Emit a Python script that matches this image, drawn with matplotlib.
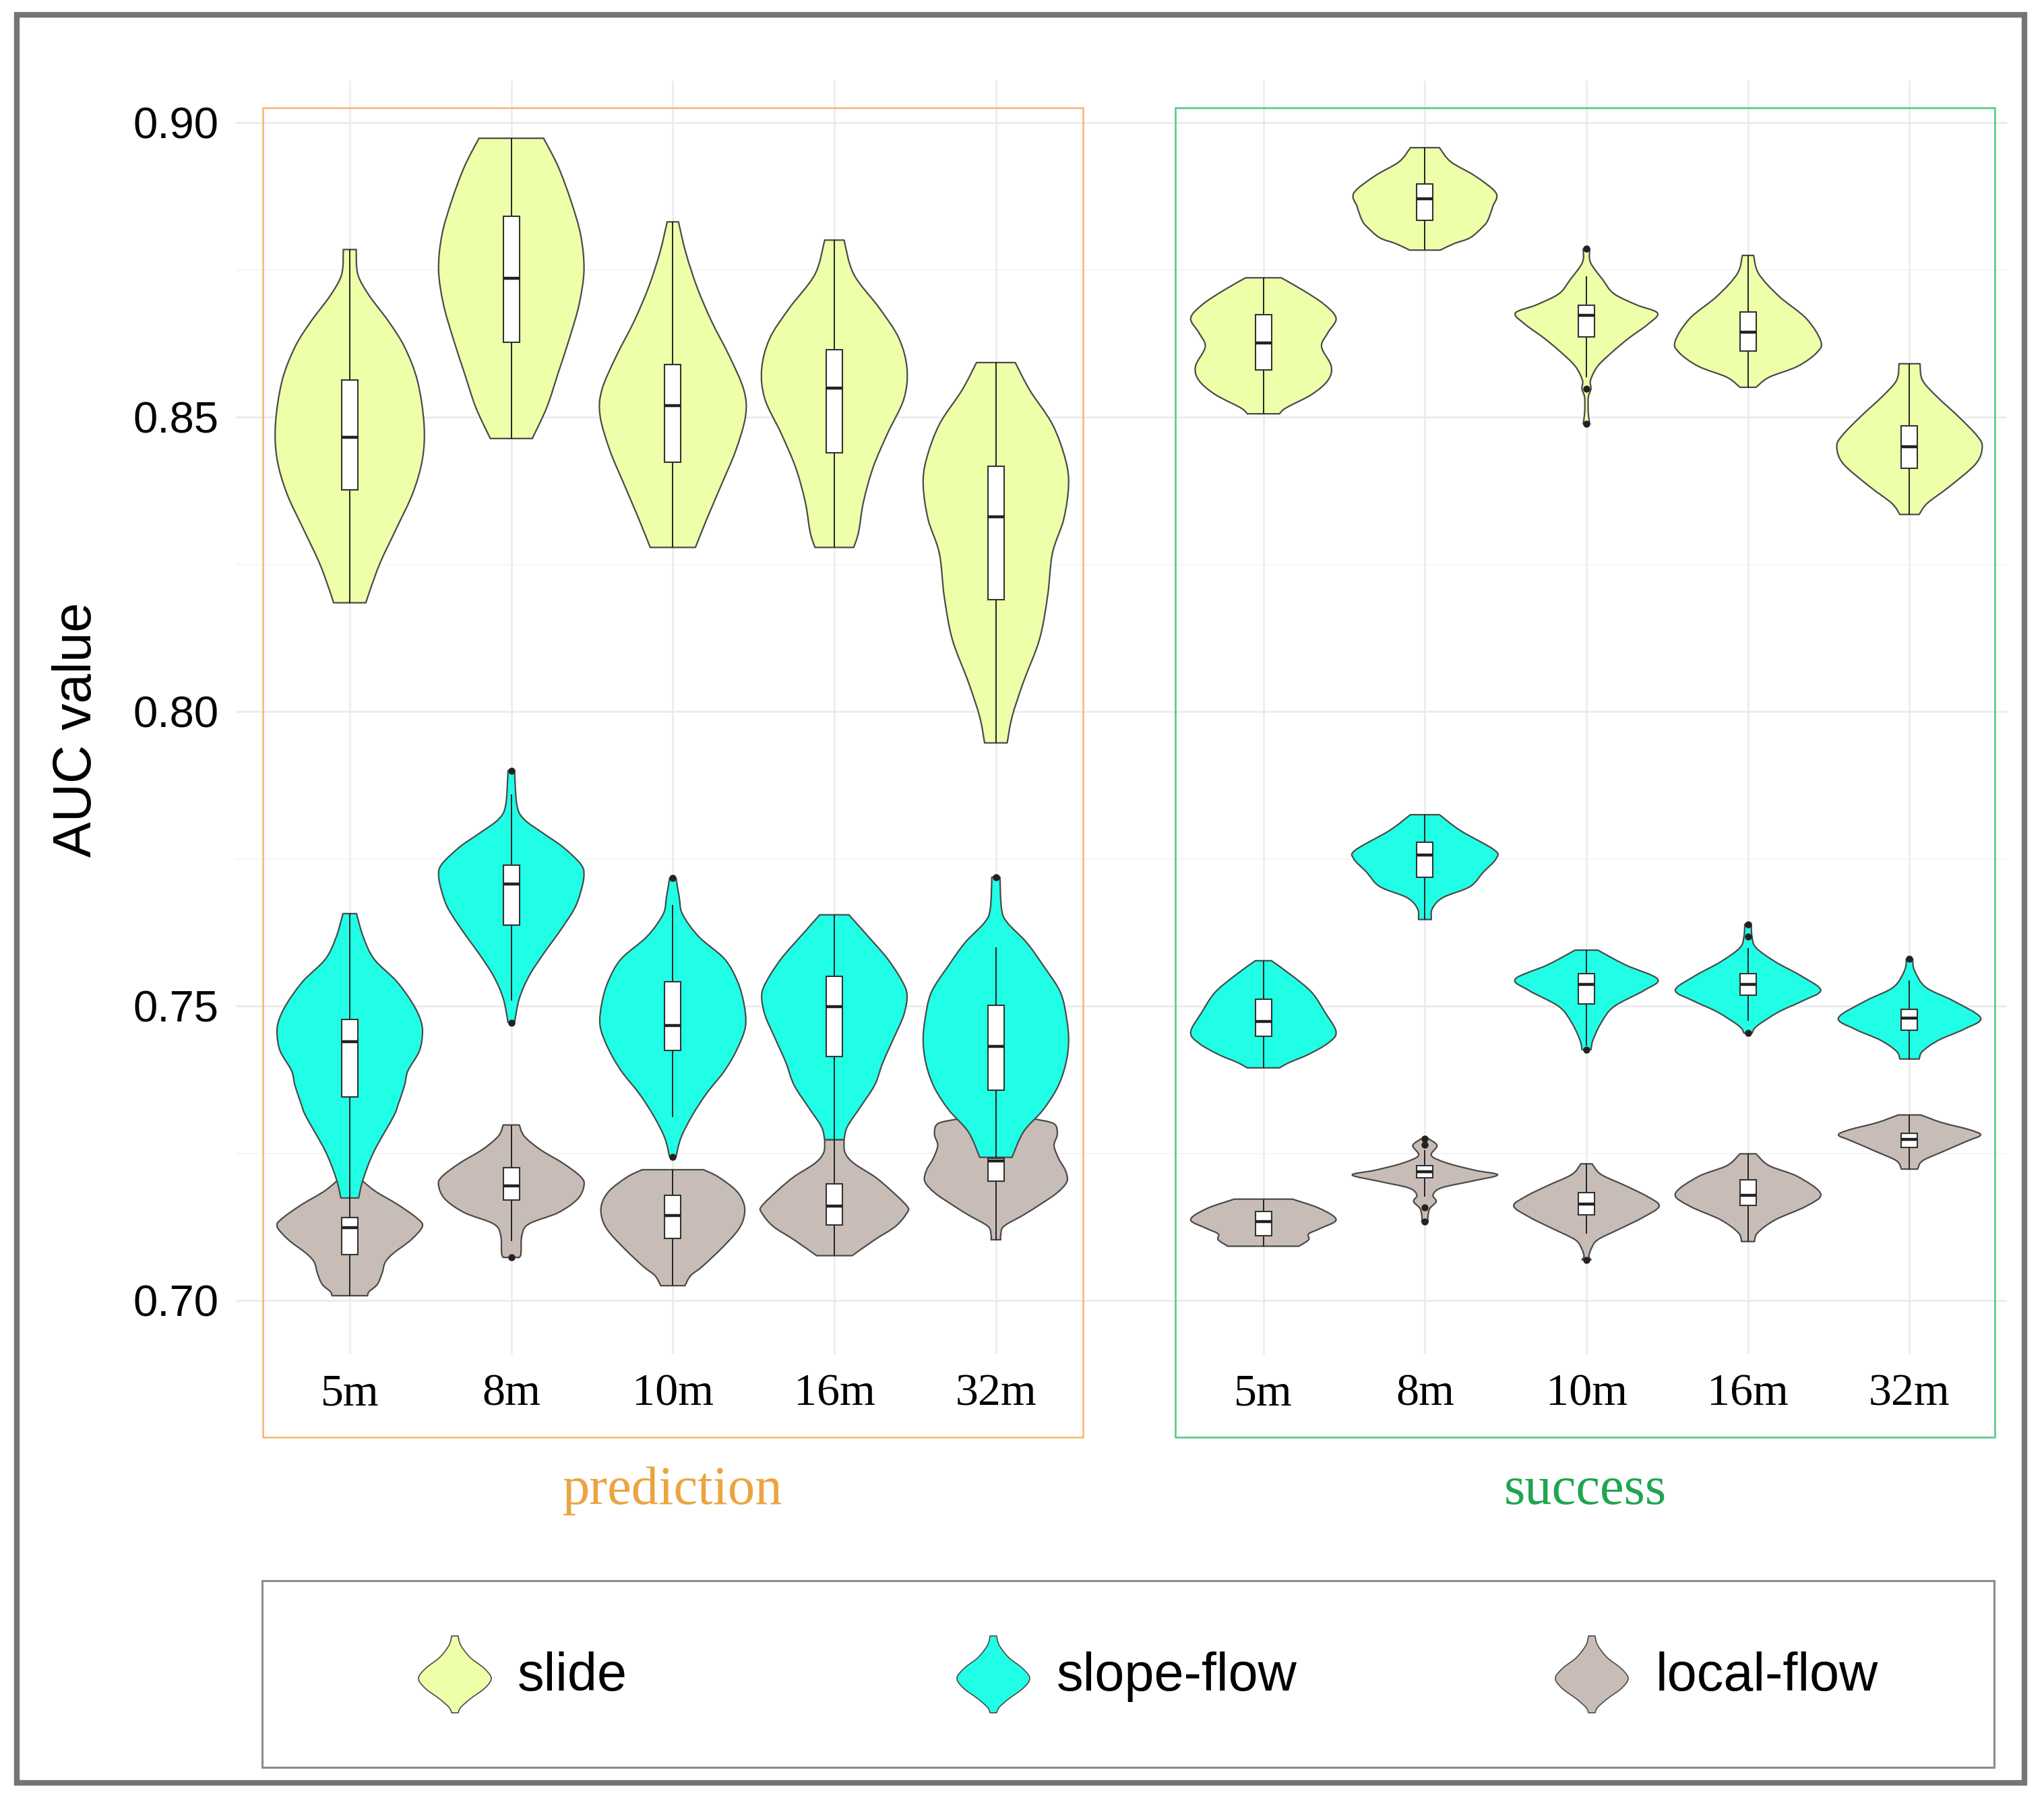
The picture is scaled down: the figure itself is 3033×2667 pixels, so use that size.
import matplotlib
matplotlib.use("Agg")
import matplotlib.pyplot as plt
from matplotlib.path import Path
from matplotlib.patches import PathPatch, Rectangle
import matplotlib.transforms as mtransforms
import numpy as np

# ---------------- data ----------------
categories = ["5m", "8m", "10m", "16m", "32m"]
panels = ["prediction", "success"]
series = ["slide", "slope-flow", "local-flow"]
yticks = [0.70, 0.75, 0.80, 0.85, 0.90]
yticklabels = ["0.70", "0.75", "0.80", "0.85", "0.90"]

# violin outlines: AUC levels (top -> bottom) and half-width (fraction of slot)
slide_pred_auc = [
    [0.8785, 0.8743, 0.8707, 0.8663, 0.8619, 0.8561, 0.8488, 0.8429, 0.8371, 0.8312, 0.8254, 0.8210, 0.8185],
    [0.8974, 0.8926, 0.8867, 0.8809, 0.8750, 0.8692, 0.8634, 0.8575, 0.8517, 0.8464],
    [0.8832, 0.8780, 0.8721, 0.8663, 0.8604, 0.8546, 0.8502, 0.8444, 0.8385, 0.8327, 0.8279],
    [0.8801, 0.8743, 0.8685, 0.8634, 0.8582, 0.8531, 0.8473, 0.8415, 0.8356, 0.8305, 0.8279],
    [0.8593, 0.8546, 0.8488, 0.8429, 0.8385, 0.8327, 0.8269, 0.8196, 0.8123, 0.8050, 0.7991, 0.7947],
]
slide_pred_wid = [
    [0.04, 0.05, 0.12, 0.24, 0.34, 0.42, 0.46, 0.45, 0.39, 0.29, 0.19, 0.13, 0.10],
    [0.20, 0.29, 0.37, 0.43, 0.45, 0.42, 0.36, 0.29, 0.22, 0.13],
    [0.035, 0.08, 0.15, 0.24, 0.35, 0.44, 0.45, 0.39, 0.30, 0.21, 0.14],
    [0.06, 0.12, 0.28, 0.40, 0.45, 0.43, 0.33, 0.24, 0.18, 0.15, 0.12],
    [0.12, 0.21, 0.35, 0.43, 0.45, 0.42, 0.35, 0.32, 0.27, 0.17, 0.10, 0.07],
]
slope_pred_auc = [
    [0.7657, 0.7618, 0.7580, 0.7542, 0.7504, 0.7475, 0.7452, 0.7423, 0.7390, 0.7366, 0.7333, 0.7312, 0.7253, 0.7206, 0.7174],
    [0.7900, 0.7841, 0.7817, 0.7793, 0.7770, 0.7741, 0.7722, 0.7694, 0.7665, 0.7627, 0.7589, 0.7551, 0.7513, 0.7472],
    [0.7717, 0.7684, 0.7656, 0.7618, 0.7580, 0.7542, 0.7504, 0.7466, 0.7428, 0.7390, 0.7352, 0.7314, 0.7276, 0.7244],
    [0.7655, 0.7618, 0.7580, 0.7542, 0.7518, 0.7485, 0.7447, 0.7404, 0.7366, 0.7328, 0.7295, 0.7273],
    [0.7719, 0.7665, 0.7642, 0.7608, 0.7570, 0.7523, 0.7475, 0.7437, 0.7399, 0.7361, 0.7323, 0.7286, 0.7243],
]
slope_pred_wid = [
    [0.042, 0.083, 0.15, 0.29, 0.39, 0.44, 0.45, 0.43, 0.36, 0.34, 0.30, 0.27, 0.15, 0.083, 0.055],
    [0.02, 0.035, 0.08, 0.20, 0.32, 0.43, 0.45, 0.43, 0.39, 0.30, 0.20, 0.11, 0.05, 0.02],
    [0.02, 0.04, 0.06, 0.16, 0.32, 0.40, 0.44, 0.45, 0.40, 0.32, 0.21, 0.12, 0.05, 0.02],
    [0.09, 0.21, 0.33, 0.42, 0.45, 0.43, 0.37, 0.30, 0.25, 0.16, 0.08, 0.06],
    [0.025, 0.035, 0.07, 0.19, 0.29, 0.40, 0.44, 0.45, 0.43, 0.38, 0.29, 0.17, 0.10],
]
local_pred_auc = [
    [0.7215, 0.7187, 0.7164, 0.7141, 0.7126, 0.7103, 0.7080, 0.7065, 0.7046, 0.7027, 0.7015, 0.7008],
    [0.7298, 0.7279, 0.7256, 0.7233, 0.7210, 0.7195, 0.7172, 0.7149, 0.7130, 0.7111, 0.7080, 0.7073],
    [0.7222, 0.7210, 0.7187, 0.7164, 0.7141, 0.7118, 0.7088, 0.7057, 0.7042, 0.7025],
    [0.7273, 0.7251, 0.7233, 0.7210, 0.7187, 0.7160, 0.7149, 0.7126, 0.7103, 0.7076],
    [0.7308, 0.7300, 0.7282, 0.7263, 0.7240, 0.7221, 0.7202, 0.7183, 0.7164, 0.7145, 0.7126, 0.7111, 0.7103],
]
local_pred_wid = [
    [0.03, 0.15, 0.29, 0.41, 0.45, 0.38, 0.27, 0.22, 0.20, 0.17, 0.12, 0.11],
    [0.05, 0.08, 0.18, 0.32, 0.43, 0.45, 0.41, 0.29, 0.11, 0.066, 0.06, 0.05],
    [0.19, 0.28, 0.39, 0.44, 0.44, 0.40, 0.30, 0.18, 0.11, 0.075],
    [0.06, 0.066, 0.12, 0.25, 0.35, 0.45, 0.45, 0.38, 0.25, 0.11],
    [0.24, 0.36, 0.38, 0.36, 0.39, 0.43, 0.44, 0.38, 0.28, 0.17, 0.05, 0.03, 0.03],
]
slide_succ_auc = [
    [0.8737, 0.8715, 0.8691, 0.8668, 0.8644, 0.8620, 0.8587, 0.8563, 0.8539, 0.8516, 0.8506],
    [0.8958, 0.8934, 0.8910, 0.8881, 0.8858, 0.8835, 0.8824, 0.8805, 0.8795, 0.8784],
    [0.8786, 0.8763, 0.8734, 0.8710, 0.8691, 0.8677, 0.8658, 0.8634, 0.8611, 0.8587, 0.8563, 0.8549, 0.8535, 0.8520, 0.8505, 0.8489],
    [0.8775, 0.8744, 0.8706, 0.8668, 0.8630, 0.8611, 0.8587, 0.8568, 0.8551],
    [0.8591, 0.8563, 0.8535, 0.8502, 0.8468, 0.8449, 0.8421, 0.8383, 0.8354, 0.8335],
]
slide_succ_wid = [
    [0.11, 0.25, 0.38, 0.45, 0.40, 0.36, 0.42, 0.40, 0.30, 0.14, 0.10],
    [0.09, 0.16, 0.31, 0.44, 0.42, 0.39, 0.36, 0.28, 0.18, 0.095],
    [0.02, 0.025, 0.10, 0.17, 0.31, 0.44, 0.38, 0.26, 0.16, 0.07, 0.025, 0.028, 0.012, 0.01, 0.012, 0.02],
    [0.035, 0.066, 0.19, 0.36, 0.45, 0.43, 0.31, 0.13, 0.05],
    [0.065, 0.08, 0.17, 0.30, 0.42, 0.45, 0.41, 0.25, 0.11, 0.06],
]
slope_succ_auc = [
    [0.7577, 0.7551, 0.7523, 0.7490, 0.7456, 0.7437, 0.7418, 0.7404, 0.7395],
    [0.7825, 0.7798, 0.7765, 0.7750, 0.7727, 0.7703, 0.7684, 0.7665, 0.7647],
    [0.7595, 0.7570, 0.7546, 0.7527, 0.7499, 0.7471, 0.7442, 0.7426],
    [0.7639, 0.7618, 0.7599, 0.7575, 0.7551, 0.7527, 0.7509, 0.7490, 0.7466, 0.7454],
    [0.7580, 0.7561, 0.7532, 0.7509, 0.7480, 0.7461, 0.7442, 0.7423, 0.7410],
]
slope_succ_wid = [
    [0.05, 0.18, 0.30, 0.38, 0.45, 0.40, 0.28, 0.16, 0.10],
    [0.09, 0.22, 0.43, 0.44, 0.36, 0.28, 0.11, 0.045, 0.04],
    [0.07, 0.24, 0.44, 0.36, 0.17, 0.09, 0.04, 0.028],
    [0.02, 0.025, 0.05, 0.17, 0.33, 0.45, 0.34, 0.19, 0.055, 0.025],
    [0.02, 0.03, 0.10, 0.27, 0.44, 0.34, 0.18, 0.08, 0.06],
]
local_succ_auc = [
    [0.7172, 0.7156, 0.7137, 0.7122, 0.7113, 0.7103, 0.7092],
    [0.7275, 0.7263, 0.7246, 0.7233, 0.7221, 0.7213, 0.7202, 0.7191, 0.7179, 0.7168, 0.7156, 0.7141, 0.7134],
    [0.7232, 0.7214, 0.7195, 0.7176, 0.7160, 0.7141, 0.7122, 0.7103, 0.7088, 0.7075, 0.7069],
    [0.7249, 0.7229, 0.7210, 0.7181, 0.7160, 0.7137, 0.7115, 0.7100],
    [0.7315, 0.7302, 0.7290, 0.7281, 0.7271, 0.7252, 0.7237, 0.7223],
]
local_succ_wid = [
    [0.18, 0.35, 0.45, 0.35, 0.28, 0.28, 0.22],
    [0.02, 0.075, 0.04, 0.14, 0.31, 0.45, 0.28, 0.10, 0.05, 0.07, 0.03, 0.018, 0.02],
    [0.035, 0.09, 0.24, 0.38, 0.45, 0.35, 0.21, 0.07, 0.03, 0.015, 0.028],
    [0.05, 0.13, 0.31, 0.45, 0.36, 0.17, 0.06, 0.04],
    [0.07, 0.20, 0.37, 0.44, 0.36, 0.20, 0.08, 0.05],
]

# box stats: (whisker low, Q1, median, Q3, whisker high)
slide_pred_box = [(0.8185, 0.8377, 0.8466, 0.8563, 0.8785), (0.8464, 0.8628, 0.8736, 0.8842, 0.8974),
                  (0.8279, 0.8424, 0.8520, 0.8590, 0.8832), (0.8279, 0.8440, 0.8550, 0.8615, 0.8801),
                  (0.7947, 0.8190, 0.8331, 0.8417, 0.8593)]
slope_pred_box = [(0.7174, 0.7346, 0.7440, 0.7477, 0.7657), (0.7509, 0.7638, 0.7707, 0.7739, 0.7860),
                  (0.7311, 0.7424, 0.7467, 0.7541, 0.7672), (0.7273, 0.7414, 0.7499, 0.7551, 0.7655),
                  (0.7243, 0.7357, 0.7431, 0.7501, 0.7600)]
local_pred_box = [(0.7008, 0.7078, 0.7124, 0.7141, 0.7215), (0.7101, 0.7170, 0.7195, 0.7225, 0.7298),
                  (0.7025, 0.7105, 0.7144, 0.7179, 0.7222), (0.7076, 0.7128, 0.7160, 0.7198, 0.7273),
                  (0.7103, 0.7202, 0.7237, 0.7242, 0.7308)]
slide_succ_box = [(0.8506, 0.8580, 0.8626, 0.8674, 0.8737), (0.8784, 0.8835, 0.8871, 0.8896, 0.8958),
                  (0.8568, 0.8637, 0.8673, 0.8690, 0.8740), (0.8551, 0.8613, 0.8645, 0.8679, 0.8775),
                  (0.8335, 0.8413, 0.8450, 0.8486, 0.8591)]
slope_succ_box = [(0.7395, 0.7449, 0.7474, 0.7511, 0.7577), (0.7647, 0.7719, 0.7756, 0.7778, 0.7825),
                  (0.7433, 0.7504, 0.7537, 0.7555, 0.7595), (0.7475, 0.7518, 0.7537, 0.7555, 0.7599),
                  (0.7410, 0.7459, 0.7480, 0.7494, 0.7544)]
local_succ_box = [(0.7092, 0.7110, 0.7134, 0.7151, 0.7172), (0.7176, 0.7208, 0.7218, 0.7229, 0.7255),
                  (0.7113, 0.7145, 0.7164, 0.7183, 0.7232), (0.7100, 0.7161, 0.7179, 0.7205, 0.7249),
                  (0.7223, 0.7260, 0.7273, 0.7284, 0.7315)]

slide_pred_out = [[], [], [], [], []]
slope_pred_out = [[], [0.7900, 0.7472], [0.7717, 0.7244], [], [0.7719]]
local_pred_out = [[], [0.7073], [], [], []]
slide_succ_out = [[], [], [0.8786, 0.8549, 0.8489], [], []]
slope_succ_out = [[], [], [0.7426], [0.7639, 0.7618, 0.7454], [0.7580]]
local_succ_out = [[], [0.7275, 0.7264, 0.7158, 0.7134], [0.7069], [], []]

# ---------------- style ----------------
W, H = 3033, 2667
fill_colors = {"slide": "#EEFFAA", "slope-flow": "#20FFE6", "local-flow": "#C8BDB6"}
outline = "#4A4A4A"
SANS = ["Liberation Sans", "DejaVu Sans"]
SERIF = ["Liberation Serif", "DejaVu Serif"]

fig = plt.figure(figsize=(W / 100, H / 100), dpi=100)


def fx(x):
    return x / W


def fy(y):
    return 1 - y / H


def cr_curve(pts):
    verts, codes = [], []
    n = len(pts)
    for i in range(n - 1):
        p0 = pts[max(i - 1, 0)]
        p1 = pts[i]
        p2 = pts[i + 1]
        p3 = pts[min(i + 2, n - 1)]
        c1 = p1 + (p2 - p0) / 6.0
        c2 = p2 - (p3 - p1) / 6.0
        verts += [c1, c2, p2]
        codes += [Path.CURVE4] * 3
    return verts, codes


def violin_patch(xc, levels, halfw, color, z, lw=1.6):
    levels = np.asarray(levels, float)
    halfw = np.asarray(halfw, float)
    right = np.column_stack([xc + halfw, levels])
    left = np.column_stack([xc - halfw, levels])[::-1]
    verts = [left[-1], right[0]]
    codes = [Path.MOVETO, Path.LINETO]
    v, c = cr_curve(right)
    verts += v
    codes += c
    verts.append(left[0])
    codes.append(Path.LINETO)
    v, c = cr_curve(left)
    verts += v
    codes += c
    verts.append(left[-1])
    codes.append(Path.CLOSEPOLY)
    return PathPatch(Path(verts, codes), facecolor=color, edgecolor=outline,
                     lw=lw, zorder=z, joinstyle="round")


# main axes (pixel rectangle 350..2978 x 120..2010)
ax = fig.add_axes([fx(350), fy(2010), (2978 - 350) / W, (2010 - 120) / H])
ax.set_xlim(-0.705, 10.259)
ax.set_ylim(0.69084, 0.90715)
for s in ax.spines.values():
    s.set_visible(False)
ax.set_xticks([])
ax.set_yticks(yticks)
ax.set_yticklabels(yticklabels, fontsize=47, family=SANS)
ax.tick_params(axis="y", length=0, pad=18)

pred_pos = [0, 1, 2, 3, 4]
succ_pos = [5.656 + i for i in range(5)]

for v in yticks:
    ax.axhline(v, color="#EBEBEB", lw=2.0, zorder=0)
for v in [0.725, 0.775, 0.825, 0.875]:
    ax.axhline(v, color="#F2F2F2", lw=1.1, zorder=0)
for p in pred_pos + succ_pos:
    ax.axvline(p, color="#EBEBEB", lw=1.8, zorder=0)

groups = [
    (pred_pos, "local-flow", local_pred_auc, local_pred_wid, local_pred_box, local_pred_out, 2),
    (pred_pos, "slope-flow", slope_pred_auc, slope_pred_wid, slope_pred_box, slope_pred_out, 3),
    (pred_pos, "slide", slide_pred_auc, slide_pred_wid, slide_pred_box, slide_pred_out, 4),
    (succ_pos, "local-flow", local_succ_auc, local_succ_wid, local_succ_box, local_succ_out, 2),
    (succ_pos, "slope-flow", slope_succ_auc, slope_succ_wid, slope_succ_box, slope_succ_out, 3),
    (succ_pos, "slide", slide_succ_auc, slide_succ_wid, slide_succ_box, slide_succ_out, 4),
]

for pos, name, aucs, wids, boxes, outs, z in groups:
    for i, xc in enumerate(pos):
        ax.add_patch(violin_patch(xc, aucs[i], wids[i], fill_colors[name], z))

bw = 0.05
for pos, name, aucs, wids, boxes, outs, z in groups:
    for i, xc in enumerate(pos):
        wlo, q1, med, q3, whi = boxes[i]
        ax.plot([xc, xc], [wlo, q1], color="#222222", lw=1.4, zorder=6, solid_capstyle="butt")
        ax.plot([xc, xc], [q3, whi], color="#222222", lw=1.4, zorder=6, solid_capstyle="butt")
        ax.add_patch(Rectangle((xc - bw, q1), 2 * bw, q3 - q1, facecolor="white",
                               edgecolor="#333333", lw=1.5, zorder=7))
        ax.plot([xc - bw, xc + bw], [med, med], color="#222222", lw=3.2, zorder=8,
                solid_capstyle="butt")
        for o in outs[i]:
            ax.plot([xc], [o], "o", ms=6.5, color="#222222", zorder=9)

# category labels
btr = mtransforms.blended_transform_factory(ax.transData, fig.transFigure)
for pos in (pred_pos, succ_pos):
    for xc, lab in zip(pos, categories):
        ax.text(xc, fy(2085), lab, transform=btr, ha="center", va="baseline",
                fontsize=49, family=SERIF, color="black", clip_on=False)

# panel frames and titles
fig.add_artist(Rectangle((fx(390), fy(2133)), (1607 - 390) / W, (2133 - 160) / H,
                         transform=fig.transFigure, fill=False, edgecolor="#F6B66B", lw=1.8))
fig.add_artist(Rectangle((fx(1744), fy(2133)), (2960 - 1744) / W, (2133 - 160) / H,
                         transform=fig.transFigure, fill=False, edgecolor="#4FC785", lw=1.8))
fig.text(fx(998), fy(2232), panels[0], ha="center", va="baseline", fontsize=58,
         family=SERIF, color="#EBA440")
fig.text(fx(2352), fy(2232), panels[1], ha="center", va="baseline", fontsize=58,
         family=SERIF, color="#1FA550")

# y axis title
fig.text(fx(114), fy(1083), "AUC value", rotation=90, ha="center", va="center",
         fontsize=57, family=SANS, color="black")

# legend
fig.add_artist(Rectangle((fx(389), fy(2623)), (2959 - 389) / W, (2623 - 2346) / H,
                         transform=fig.transFigure, fill=False, edgecolor="#8C8C8C", lw=2.2))
lax = fig.add_axes([fx(389), fy(2623), (2959 - 389) / W, (2623 - 2346) / H])
lax.set_xlim(389, 2959)
lax.set_ylim(2623, 2346)
lax.axis("off")
key_t = np.array([0.0, 0.12, 0.28, 0.42, 0.55, 0.68, 0.82, 0.93, 1.0])
key_w = np.array([0.09, 0.16, 0.42, 0.80, 1.0, 0.82, 0.42, 0.16, 0.09])
key_x = [675, 1474, 2362]
text_x = [768, 1568, 2457]
for name, kx, tx in zip(series, key_x, text_x):
    lax.add_patch(violin_patch(kx, 2428 + key_t * 114, key_w * 54, fill_colors[name], 3, lw=1.2))
    lax.text(tx, 2488, name, ha="left", va="center", fontsize=57, family=SANS, color="black")

# outer frame
fig.add_artist(Rectangle((fx(25), fy(2646)), (3004 - 25) / W, (2646 - 22) / H,
                         transform=fig.transFigure, fill=False, edgecolor="#747474", lw=6))

fig.savefig("out.png", dpi=100)
